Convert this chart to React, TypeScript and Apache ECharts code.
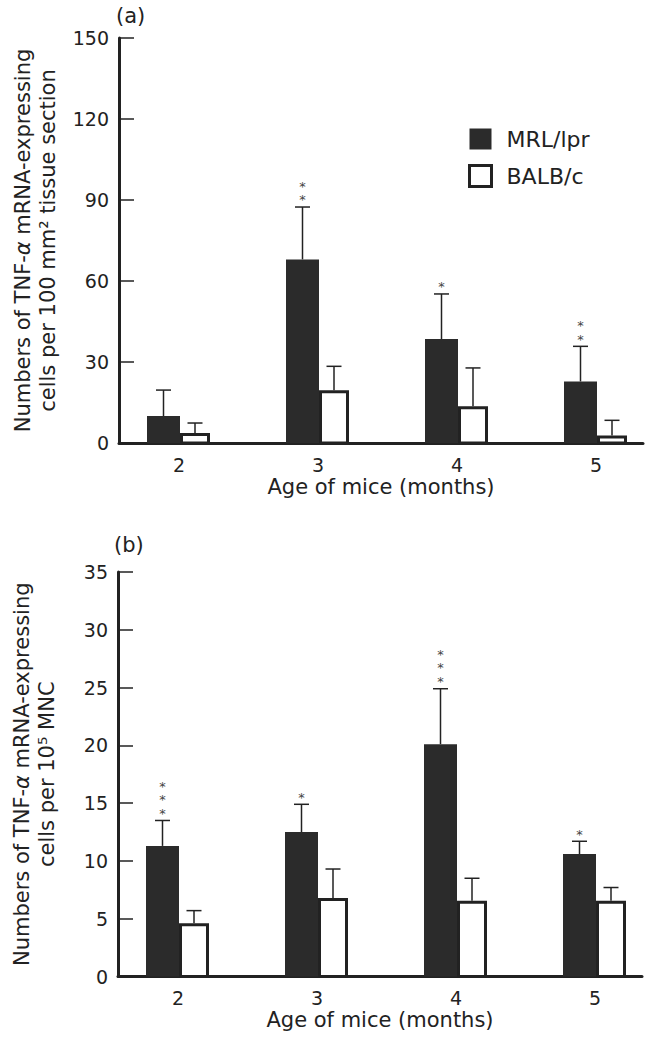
import React, { useEffect, useRef } from "react";
import * as echarts from "echarts";

// ---- data ----
const ages = [2, 3, 4, 5];

// (a) per 100 mm2 tissue section
const tissueMRL = [10, 68, 38.5, 22.8];
const tissueMRLErr = [9.6, 19.4, 16.7, 13.0];
const tissueBALB = [3.7, 19.5, 13.6, 2.8];
const tissueBALBErr = [3.7, 8.9, 14.2, 5.6];
const tissueStars = [0, 2, 1, 2];

// (b) per 10^5 MNC
const mncMRL = [11.3, 12.5, 20.1, 10.6];
const mncMRLErr = [2.2, 2.4, 4.8, 1.1];
const mncBALB = [4.6, 6.8, 6.55, 6.55];
const mncBALBErr = [1.1, 2.5, 1.95, 1.15];
const mncStars = [3, 1, 3, 1];

const seriesNames = ["MRL/lpr", "BALB/c"];
const panelLabels = ["(a)", "(b)"];
const xTitle = "Age of mice (months)";

const FONT = "DejaVu Sans";
const INK = "#222";
const BAR = "#2b2b2b";

function makeRender(kind: "MRL" | "BALB") {
  return (params: any, api: any) => {
    const x = api.value(0);
    const v = api.value(1);
    const e = api.value(2);
    const stars = api.value(3) || 0;
    const c = api.coord([x, v]);
    const base = api.coord([x, 0]);
    const top = api.coord([x, v + e]);
    const cx = c[0];
    let left: number, right: number;
    if (kind === "MRL") {
      left = cx - 32;
      right = cx + 1;
    } else {
      left = cx + 1;
      right = cx + 31;
    }
    const mid = (left + right) / 2;
    const children: any[] = [];
    children.push({
      type: "line",
      shape: { x1: mid, y1: c[1], x2: mid, y2: top[1] },
      style: { stroke: INK, lineWidth: 1.5 },
    });
    children.push({
      type: "line",
      shape: { x1: mid - 7.5, y1: top[1], x2: mid + 7.5, y2: top[1] },
      style: { stroke: INK, lineWidth: 1.5 },
    });
    if (kind === "MRL") {
      children.push({
        type: "rect",
        shape: { x: left, y: c[1], width: right - left, height: base[1] - c[1] },
        style: { fill: BAR },
      });
    } else {
      children.push({
        type: "rect",
        shape: {
          x: left + 1.5,
          y: c[1] + 1.5,
          width: right - left - 3,
          height: Math.max(0, base[1] - c[1] - 1.5),
        },
        style: { fill: "#fff", stroke: INK, lineWidth: 3 },
      });
    }
    if (stars > 0) {
      const lines: string[] = [];
      for (let i = 0; i < stars; i++) lines.push("*");
      children.push({
        type: "text",
        x: mid,
        y: top[1] - 0.5,
        style: {
          text: lines.join("\n"),
          fontSize: 13,
          lineHeight: 13.5,
          fontFamily: FONT,
          fill: "#444",
          align: "center",
          verticalAlign: "bottom",
        },
      });
    }
    return { type: "group", children };
  };
}

function buildData(vals: number[], errs: number[], stars?: number[]) {
  return ages.map((a, i) => [a, vals[i], errs[i], stars ? stars[i] : 0]);
}

const X_MIN = 2 - 60 / 139;
const X_MAX = 5 + 47 / 139;

function xAxisCfg(gridIndex: number) {
  return {
    type: "value",
    gridIndex,
    min: X_MIN,
    max: X_MAX,
    minInterval: 1,
    name: xTitle,
    nameLocation: "middle",
    nameGap: 33,
    nameTextStyle: { fontSize: 21, fontFamily: FONT, color: INK },
    axisLine: { show: true, lineStyle: { color: INK, width: 3 } },
    axisTick: { show: false },
    splitLine: { show: false },
    axisLabel: {
      margin: 12,
      fontSize: 19,
      fontFamily: FONT,
      color: INK,
      showMinLabel: false,
      showMaxLabel: false,
      formatter: (v: number) =>
        Math.abs(v - Math.round(v)) < 1e-6 && ages.indexOf(Math.round(v)) >= 0
          ? String(Math.round(v))
          : "",
    },
  };
}

const richStyle = (italic: boolean) => ({
  fontSize: 21,
  fontFamily: FONT,
  color: INK,
  lineHeight: 25,
  align: "center",
  fontStyle: italic ? "italic" : "normal",
});

function yAxisCfg(gridIndex: number, max: number, interval: number, line2: string) {
  return {
    type: "value",
    gridIndex,
    min: 0,
    max,
    interval,
    name: "{t|Numbers of TNF-}{a|α}{t| mRNA-expressing}\n{t|" + line2 + "}",
    nameLocation: "middle",
    nameGap: 59,
    nameTextStyle: {
      rich: { t: richStyle(false), a: richStyle(true) },
    },
    axisLine: { show: true, lineStyle: { color: INK, width: 3 } },
    axisTick: { show: true, inside: true, length: 15, lineStyle: { color: INK, width: 1.5 } },
    splitLine: { show: false },
    axisLabel: { margin: 10, fontSize: 19, fontFamily: FONT, color: INK },
  };
}

export default function App() {
  const ref = useRef<HTMLDivElement>(null);
  useEffect(() => {
    if (!ref.current) return;
    const chart = echarts.init(ref.current, null, { renderer: "svg" });
    const option: any = {
      animation: false,
      backgroundColor: "#fff",
      grid: [
        { left: 119, top: 38, width: 524, height: 405 },
        { left: 118, top: 572, width: 524, height: 404.5 },
      ],
      xAxis: [xAxisCfg(0), xAxisCfg(1)],
      yAxis: [
        yAxisCfg(0, 150, 30, "cells per 100 mm² tissue section"),
        yAxisCfg(1, 35, 5, "cells per 10⁵ MNC"),
      ],
      legend: {
        orient: "vertical",
        left: 463,
        top: 123,
        itemWidth: 22,
        itemHeight: 21,
        itemGap: 14,
        icon: "rect",
        data: [
          { name: seriesNames[0], itemStyle: { color: BAR, borderWidth: 0 } },
          { name: seriesNames[1], itemStyle: { color: "#fff", borderColor: INK, borderWidth: 3 } },
        ],
        textStyle: { fontSize: 22, fontFamily: FONT, color: INK, padding: [0, 0, 0, 10] },
      },
      graphic: [
        {
          type: "text",
          left: 116,
          top: 5,
          style: { text: panelLabels[0], fontSize: 21, fontFamily: FONT, fill: INK },
        },
        {
          type: "text",
          left: 114,
          top: 534,
          style: { text: panelLabels[1], fontSize: 21, fontFamily: FONT, fill: INK },
        },
      ],
      series: [
        {
          type: "custom",
          name: seriesNames[0],
          xAxisIndex: 0,
          yAxisIndex: 0,
          itemStyle: { color: BAR },
          encode: { x: 0, y: 1 },
          renderItem: makeRender("MRL"),
          data: buildData(tissueMRL, tissueMRLErr, tissueStars),
        },
        {
          type: "custom",
          name: seriesNames[1],
          xAxisIndex: 0,
          yAxisIndex: 0,
          itemStyle: { color: "#fff", borderColor: INK, borderWidth: 3 },
          encode: { x: 0, y: 1 },
          renderItem: makeRender("BALB"),
          data: buildData(tissueBALB, tissueBALBErr),
        },
        {
          type: "custom",
          name: seriesNames[0],
          xAxisIndex: 1,
          yAxisIndex: 1,
          itemStyle: { color: BAR },
          encode: { x: 0, y: 1 },
          renderItem: makeRender("MRL"),
          data: buildData(mncMRL, mncMRLErr, mncStars),
        },
        {
          type: "custom",
          name: seriesNames[1],
          xAxisIndex: 1,
          yAxisIndex: 1,
          itemStyle: { color: "#fff", borderColor: INK, borderWidth: 3 },
          encode: { x: 0, y: 1 },
          renderItem: makeRender("BALB"),
          data: buildData(mncBALB, mncBALBErr),
        },
      ],
    };
    chart.setOption(option);
    return () => chart.dispose();
  }, []);
  return (
    <div
      ref={ref}
      style={{ position: "absolute", left: 0, top: 0, width: 656, height: 1047 }}
    />
  );
}
